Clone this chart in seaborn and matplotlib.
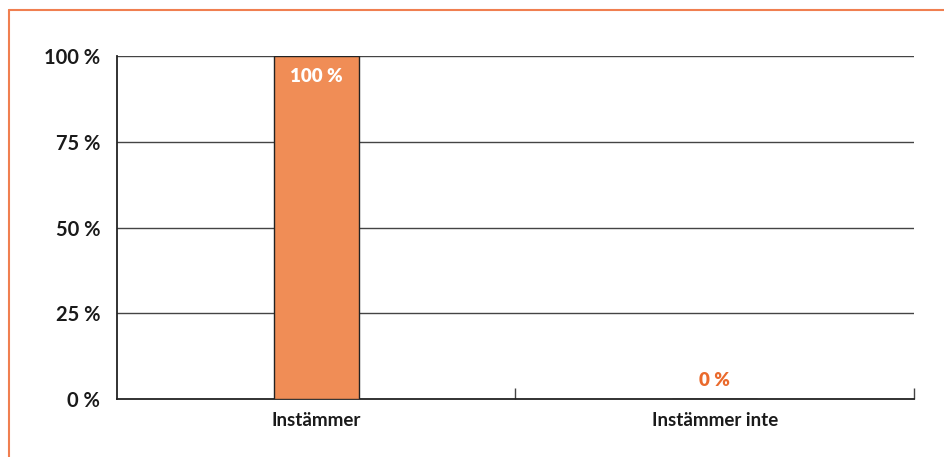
import matplotlib
matplotlib.use("Agg")
import matplotlib.pyplot as plt
import seaborn as sns
import pandas as pd
from matplotlib.lines import Line2D

categories = ["Instämmer", "Instämmer inte"]
values = [100, 0]
y_ticks = [0, 25, 50, 75, 100]
y_tick_labels = ["0 %", "25 %", "50 %", "75 %", "100 %"]
value_labels = ["100 %", "0 %"]

bar_color = "#F08D56"
accent = "#EA6A2C"
frame_color = "#F07F50"

sns.set_theme(style="white")
plt.rcParams["font.family"] = ["Lato", "DejaVu Sans"]

df = pd.DataFrame({"kategori": categories, "andel": values})

fig = plt.figure(figsize=(9.45, 4.57), dpi=100)
ax = fig.add_axes([117 / 945, 1 - 399 / 457, (914 - 117) / 945, (399 - 56) / 457])

sns.barplot(data=df, x="kategori", y="andel", color=bar_color, width=0.213,
            edgecolor="#222222", linewidth=1.0, saturation=1, ax=ax, zorder=3)

ax.set_xlim(-0.5, 1.5)
ax.set_ylim(0, 100)
ax.set_yticks(y_ticks)
ax.set_yticklabels(y_tick_labels, fontsize=14.5, fontweight="bold", color="#1a1a1a")
for y in y_ticks[1:]:
    ax.axhline(y, color="#444444", linewidth=1.0, zorder=1)

ax.set_xlabel("")
ax.set_ylabel("")
ax.tick_params(axis="x", which="major", bottom=True, length=0, pad=9, labelsize=13.5)
ax.tick_params(axis="y", left=False, length=0, pad=12)
for lbl in ax.get_xticklabels():
    lbl.set_fontweight("bold")
    lbl.set_color("#1a1a1a")
ax.set_xticks([0.5, 1.5], minor=True)
ax.tick_params(axis="x", which="minor", bottom=True, direction="in", length=8,
               width=1, color="#444444")

for side in ["top", "right"]:
    ax.spines[side].set_visible(False)
for side in ["left", "bottom"]:
    ax.spines[side].set_color("#222222")
    ax.spines[side].set_linewidth(1.3)

# value labels
ax.text(0, 96.5, value_labels[0], ha="center", va="top", color="white",
        fontsize=13.5, fontweight="heavy", zorder=4)
ax.text(1, 3, value_labels[1], ha="center", va="bottom", color=accent,
        fontsize=13.5, fontweight="heavy", zorder=4)

# orange frame along the top and left edges
fig.add_artist(Line2D([9.5 / 945, 1], [1 - 9.5 / 457, 1 - 9.5 / 457],
                      transform=fig.transFigure, color=frame_color, linewidth=1.5))
fig.add_artist(Line2D([9.5 / 945, 9.5 / 945], [0, 1 - 9.5 / 457],
                      transform=fig.transFigure, color=frame_color, linewidth=1.5))

fig.savefig("out.png", dpi=100)
